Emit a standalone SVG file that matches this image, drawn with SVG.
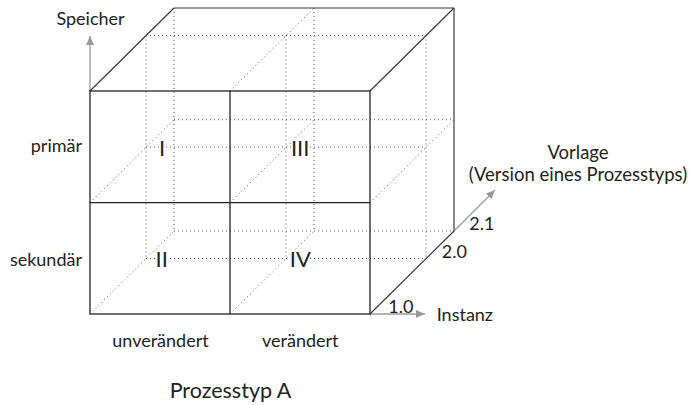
<svg xmlns="http://www.w3.org/2000/svg" width="689" height="405" viewBox="0 0 689 405">
<defs>
<style>
.s{stroke:#3a3a3a;stroke-width:1.2;fill:none}
.b{stroke:#222;stroke-width:1.3;fill:none}
.d{stroke:#555;stroke-width:1;fill:none;stroke-dasharray:1 3}
.a{stroke:#9a9a9a;stroke-width:1.3;fill:none}
text{font-family:Lato,"Liberation Sans",sans-serif;fill:#222;font-size:18px}
.n{font-size:22px;stroke:#fff;stroke-width:3;paint-order:stroke}
.t{font-size:21.5px}
.v{font-size:18.5px}
</style>
<marker id="ah" viewBox="0 0 9 8" refX="9" refY="4" markerWidth="9" markerHeight="8" markerUnits="userSpaceOnUse" orient="auto">
<path d="M0,0 L9,4 L0,8 z" fill="#9a9a9a"/>
</marker>
</defs>
<rect width="689" height="405" fill="#fff"/>
<g id="connectors">
<line class="d" x1="174" y1="8" x2="174" y2="231"/>
<line class="d" x1="314" y1="8" x2="314" y2="231"/>
<line class="d" x1="174" y1="119.7" x2="454" y2="119.7"/>
<line class="d" x1="174" y1="231" x2="454" y2="231"/>
<line class="d" x1="146" y1="35.5" x2="146" y2="258.5"/>
<line class="d" x1="286" y1="35.5" x2="286" y2="258.5"/>
<line class="d" x1="426" y1="35.5" x2="426" y2="258.5"/>
<line class="d" x1="146" y1="35.5" x2="426" y2="35.5"/>
<line class="d" x1="146" y1="147" x2="426" y2="147"/>
<line class="d" x1="146" y1="258.5" x2="426" y2="258.5"/>
<line class="d" x1="230" y1="91" x2="314" y2="8"/>
<line class="d" x1="90" y1="202.7" x2="174" y2="119.7"/>
<line class="d" x1="230" y1="202.7" x2="314" y2="119.7"/>
<line class="d" x1="370" y1="202.7" x2="454" y2="119.7"/>
<line class="d" x1="90" y1="314" x2="174" y2="231"/>
<line class="d" x1="230" y1="314" x2="314" y2="231"/>
<line class="a" x1="90" y1="91" x2="90" y2="36" marker-end="url(#ah)"/>
<line class="a" x1="370" y1="314" x2="425" y2="314" marker-end="url(#ah)"/>
<line class="a" x1="454" y1="231" x2="495" y2="190" marker-end="url(#ah)"/>
<line class="s" x1="90" y1="91" x2="174" y2="8"/>
<line class="s" x1="174" y1="8" x2="454" y2="8"/>
<line class="s" x1="370" y1="91" x2="454" y2="8"/>
<line class="s" x1="454" y1="8" x2="454" y2="231"/>
<line class="s" x1="370" y1="314" x2="454" y2="231"/>
</g>
<g id="front">
<rect class="b" x="90" y="91" width="280" height="223"/>
<line class="b" x1="230" y1="91" x2="230" y2="314"/>
<line class="b" x1="90" y1="202.7" x2="370" y2="202.7"/>
</g>
<g id="cell-I"><text class="n" x="162" y="156" text-anchor="middle">I</text></g>
<g id="cell-III"><text class="n" x="300.2" y="156" text-anchor="middle">III</text></g>
<g id="cell-II"><text class="n" x="161.7" y="267" text-anchor="middle">II</text></g>
<g id="cell-IV"><text class="n" x="300.3" y="267" text-anchor="middle">IV</text></g>
<g id="labels">
<text x="90.5" y="25" text-anchor="middle">Speicher</text>
<text x="82" y="152" text-anchor="end">primär</text>
<text x="82" y="265.5" text-anchor="end">sekundär</text>
<text x="160.5" y="346.5" text-anchor="middle">unverändert</text>
<text x="300.3" y="346.5" text-anchor="middle">verändert</text>
<text class="t" x="230.5" y="397.5" text-anchor="middle">Prozesstyp A</text>
<text class="v" x="578" y="158.5" text-anchor="middle">Vorlage</text>
<text class="v" x="578" y="181" text-anchor="middle">(Version eines Prozesstyps)</text>
<text x="469.3" y="230">2.1</text>
<text x="441.7" y="258">2.0</text>
<text x="388.3" y="313">1.0</text>
<text x="436.7" y="321">Instanz</text>
</g>
</svg>
